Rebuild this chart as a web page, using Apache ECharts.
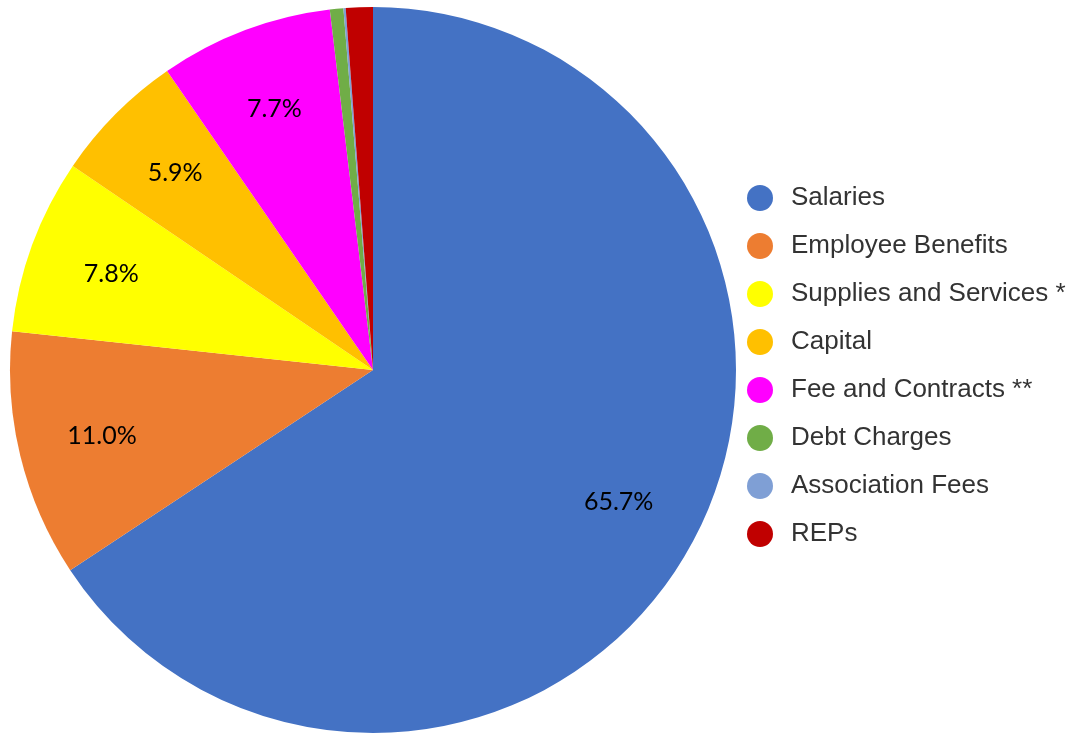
<!DOCTYPE html>
<html>
<head>
<meta charset="utf-8">
<script src="https://cdn.jsdelivr.net/npm/echarts@6/dist/echarts.min.js"></script>
<style>
html,body{margin:0;padding:0;background:#fff;}
#chart{width:1080px;height:736px;}
</style>
</head>
<body>
<div id="chart"></div>
<script>
const categories = ["Salaries", "Employee Benefits", "Supplies and Services *", "Capital", "Fee and Contracts **", "Debt Charges", "Association Fees", "REPs"];
const values = [65.7, 11.0, 7.8, 5.9, 7.7, 0.6, 0.1, 1.2];
const colors = ["#4472C4", "#ED7D31", "#FFFF00", "#FFC000", "#FF00FF", "#70AD47", "#7F9FD5", "#C00000"];
const labelThreshold = 5;

const chart = echarts.init(document.getElementById('chart'));
const R = 363;
const data = categories.map((n, i) => ({ name: n, value: values[i], itemStyle: { color: colors[i] } }));

chart.setOption({
  animation: false,
  color: colors,
  legend: {
    orient: 'vertical',
    left: 742,
    top: 180,
    icon: 'circle',
    itemWidth: 26,
    itemHeight: 26,
    itemGap: 22,
    textStyle: { fontFamily: 'Liberation Sans, Arial', fontSize: 26, color: '#333', padding: [0, 0, 0, 13] },
    data: categories
  },
  series: [
    {
      type: 'pie',
      center: [373, 370],
      radius: [0, R],
      startAngle: 90,
      clockwise: true,
      silent: true,
      label: { show: false },
      labelLine: { show: false },
      data: data
    },
    {
      type: 'pie',
      center: [373, 370],
      radius: [0, R * 1.52],
      startAngle: 90,
      clockwise: true,
      silent: true,
      legendHoverLink: false,
      itemStyle: { color: 'rgba(0,0,0,0)' },
      label: {
        show: true,
        position: 'inside',
        fontFamily: 'Lato, Carlito, sans-serif',
        fontSize: 25,
        color: '#000',
        formatter: p => p.value >= labelThreshold ? p.value.toFixed(1) + '%' : ''
      },
      labelLine: { show: false },
      data: categories.map((n, i) => ({ name: n, value: values[i], itemStyle: { color: 'rgba(0,0,0,0)' } }))
    }
  ]
});
</script>
</body>
</html>
